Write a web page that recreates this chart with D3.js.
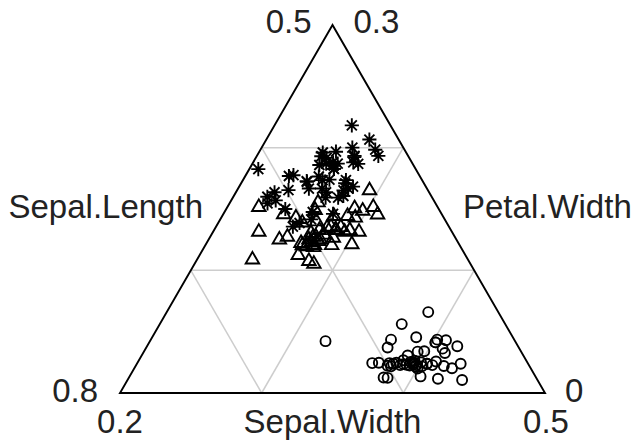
<!DOCTYPE html>
<html>
<head>
<meta charset="utf-8">
<script src="https://cdn.jsdelivr.net/npm/d3@7"></script>
<style>
  html, body { margin: 0; padding: 0; background: #fff; }
  svg { display: block; }
  text { font-family: "Liberation Sans", Arial, Helvetica, sans-serif; fill: #222; }
</style>
</head>
<body>
<svg id="chart" width="635" height="441"></svg>
<script>
// Iris measurements (Sepal.Length, Sepal.Width, Petal.Width) by species
const sepalLength = [
  5.1,4.9,4.7,4.6,5.0,5.4,4.6,5.0,4.4,4.9,5.4,4.8,4.8,4.3,5.8,5.7,5.4,5.1,5.7,5.1,5.4,5.1,4.6,5.1,4.8,
  5.0,5.0,5.2,5.2,4.7,4.8,5.4,5.2,5.5,4.9,5.0,5.5,4.9,4.4,5.1,5.0,4.5,4.4,5.0,5.1,4.8,5.1,4.6,5.3,5.0,
  7.0,6.4,6.9,5.5,6.5,5.7,6.3,4.9,6.6,5.2,5.0,5.9,6.0,6.1,5.6,6.7,5.6,5.8,6.2,5.6,5.9,6.1,6.3,6.1,6.4,
  6.6,6.8,6.7,6.0,5.7,5.5,5.5,5.8,6.0,5.4,6.0,6.7,6.3,5.6,5.5,5.5,6.1,5.8,5.0,5.6,5.7,5.7,6.2,5.1,5.7,
  6.3,5.8,7.1,6.3,6.5,7.6,4.9,7.3,6.7,7.2,6.5,6.4,6.8,5.7,5.8,6.4,6.5,7.7,7.7,6.0,6.9,5.6,7.7,6.3,6.7,
  7.2,6.2,6.1,6.4,7.2,7.4,7.9,6.4,6.3,6.1,7.7,6.3,6.4,6.0,6.9,6.7,6.9,5.8,6.8,6.7,6.7,6.3,6.5,6.2,5.9
];
const sepalWidth = [
  3.5,3.0,3.2,3.1,3.6,3.9,3.4,3.4,2.9,3.1,3.7,3.4,3.0,3.0,4.0,4.4,3.9,3.5,3.8,3.8,3.4,3.7,3.6,3.3,3.4,
  3.0,3.4,3.5,3.4,3.2,3.1,3.4,4.1,4.2,3.1,3.2,3.5,3.6,3.0,3.4,3.5,2.3,3.2,3.5,3.8,3.0,3.8,3.2,3.7,3.3,
  3.2,3.2,3.1,2.3,2.8,2.8,3.3,2.4,2.9,2.7,2.0,3.0,2.2,2.9,2.9,3.1,3.0,2.7,2.2,2.5,3.2,2.8,2.5,2.8,2.9,
  3.0,2.8,3.0,2.9,2.6,2.4,2.4,2.7,2.7,3.0,3.4,3.1,2.3,3.0,2.5,2.6,3.0,2.6,2.3,2.7,3.0,2.9,2.9,2.5,2.8,
  3.3,2.7,3.0,2.9,3.0,3.0,2.5,2.9,2.5,3.6,3.2,2.7,3.0,2.5,2.8,3.2,3.0,3.8,2.6,2.2,3.2,2.8,2.8,2.7,3.3,
  3.2,2.8,3.0,2.8,3.0,2.8,3.8,2.8,2.8,2.6,3.0,3.4,3.1,3.0,3.1,3.1,3.1,2.7,3.2,3.3,3.0,2.5,3.0,3.4,3.0
];
const petalWidth = [
  0.2,0.2,0.2,0.2,0.2,0.4,0.3,0.2,0.2,0.1,0.2,0.2,0.1,0.1,0.2,0.4,0.4,0.3,0.3,0.3,0.2,0.4,0.2,0.5,0.2,
  0.2,0.4,0.2,0.2,0.2,0.2,0.4,0.1,0.2,0.2,0.2,0.2,0.1,0.2,0.2,0.3,0.3,0.2,0.6,0.4,0.3,0.2,0.2,0.2,0.2,
  1.4,1.5,1.5,1.3,1.5,1.3,1.6,1.0,1.3,1.4,1.0,1.5,1.0,1.4,1.3,1.4,1.5,1.0,1.5,1.1,1.8,1.3,1.5,1.2,1.3,
  1.4,1.4,1.7,1.5,1.0,1.1,1.0,1.2,1.6,1.5,1.6,1.5,1.3,1.3,1.3,1.2,1.4,1.2,1.0,1.3,1.2,1.3,1.3,1.1,1.3,
  2.5,1.9,2.1,1.8,2.2,2.1,1.7,1.8,1.8,2.5,2.0,1.9,2.1,2.0,2.4,2.3,1.8,2.2,2.3,1.5,2.3,2.0,2.0,1.8,2.1,
  1.8,1.8,1.8,2.1,1.6,1.9,2.0,2.2,1.5,1.4,2.3,2.4,1.8,1.8,2.1,2.4,2.3,1.9,2.3,2.5,2.3,1.9,2.0,2.3,1.8
];
const speciesNames = ["setosa", "versicolor", "virginica"];
const speciesCounts = [50, 50, 50];

// Axis titles and their (zoomed) ranges on the composition scale
const axisTitles = ["Sepal.Length", "Sepal.Width", "Petal.Width"];
const sepalLengthRange = [0.5, 0.8];   // 0.5 at apex, 0.8 at lower-left corner
const sepalWidthRange  = [0.2, 0.5];   // 0.2 at lower-left, 0.5 at lower-right corner
const petalWidthRange  = [0.0, 0.3];   // 0.3 at apex, 0 at lower-right corner
const cornerLabels = { apexLeft: "0.5", apexRight: "0.3", leftTop: "0.8", leftBottom: "0.2", rightTop: "0", rightBottom: "0.5" };
const gridFractions = [1 / 3, 2 / 3];

// Triangle corners: apex (Petal.Width), lower-left (Sepal.Length), lower-right (Sepal.Width)
const apex = [332.5, 25], lowerLeft = [120, 393], lowerRight = [545, 393];

// Each component share -> barycentric weight of its corner
const wLen = d3.scaleLinear().domain(sepalLengthRange).range([0, 1]);
const wWid = d3.scaleLinear().domain(sepalWidthRange).range([0, 1]);
const wPet = d3.scaleLinear().domain(petalWidthRange).range([0, 1]);

function bary(wa, wl, wr) {
  return [wa * apex[0] + wl * lowerLeft[0] + wr * lowerRight[0],
          wa * apex[1] + wl * lowerLeft[1] + wr * lowerRight[1]];
}

const points = sepalLength.map((sl, i) => {
  const total = sl + sepalWidth[i] + petalWidth[i];
  let k = 0, acc = 0;
  while (i >= acc + speciesCounts[k]) { acc += speciesCounts[k]; k++; }
  const p = bary(wPet(petalWidth[i] / total), wLen(sl / total), wWid(sepalWidth[i] / total));
  return { x: p[0], y: p[1], species: speciesNames[k] };
});

const svg = d3.select("#chart");

// Grid lines at 1/3 and 2/3 of each axis
const grid = svg.append("g").attr("stroke", "#cdcdcd").attr("stroke-width", 1.5).attr("fill", "none");
gridFractions.forEach(f => {
  // constant apex weight (horizontal)
  const h1 = bary(f, 1 - f, 0), h2 = bary(f, 0, 1 - f);
  // constant lower-left weight
  const l1 = bary(1 - f, f, 0), l2 = bary(0, f, 1 - f);
  // constant lower-right weight
  const r1 = bary(1 - f, 0, f), r2 = bary(0, 1 - f, f);
  [[h1, h2], [l1, l2], [r1, r2]].forEach(([a, b]) => {
    grid.append("line").attr("x1", a[0]).attr("y1", a[1]).attr("x2", b[0]).attr("y2", b[1]);
  });
});

// Triangle outline
svg.append("path")
  .attr("d", d3.line()([apex, lowerLeft, lowerRight]) + "Z")
  .attr("fill", "none").attr("stroke", "#000").attr("stroke-width", 1.9)
  .attr("stroke-linejoin", "miter");

// Point symbols: open circle, open triangle, asterisk
const r = 5.0;
const asterisk = {
  draw(ctx, size) {
    const a = r, b = Math.SQRT2 * r;
    ctx.moveTo(-a, -a); ctx.lineTo(a, a);
    ctx.moveTo(-a, a); ctx.lineTo(a, -a);
    ctx.moveTo(-b, 0); ctx.lineTo(b, 0);
    ctx.moveTo(0, -b); ctx.lineTo(0, b);
  }
};
const symbolFor = {
  setosa: d3.symbol().type(d3.symbolCircle).size(Math.PI * r * r),
  versicolor: d3.symbol().type(d3.symbolTriangle).size(3 * Math.sqrt(3) * Math.pow(1.555 * r / 2, 2)),
  virginica: d3.symbol().type(asterisk).size(1)
};

svg.append("g")
  .selectAll("path")
  .data(points)
  .join("path")
  .attr("transform", d => `translate(${d.x},${d.y})`)
  .attr("d", d => symbolFor[d.species]())
  .attr("fill", "none")
  .attr("stroke", "#000")
  .attr("stroke-width", 1.9);

// Corner value labels
const fs = 33;
const txt = (x, y, s, anchor) => svg.append("text")
  .attr("x", x).attr("y", y).attr("text-anchor", anchor)
  .style("font-size", fs + "px").text(s);

txt(apex[0] - 21, 33, cornerLabels.apexLeft, "end");
txt(apex[0] + 21, 33, cornerLabels.apexRight, "start");
txt(lowerLeft[0] - 22, 402, cornerLabels.leftTop, "end");
txt(lowerLeft[0], 433, cornerLabels.leftBottom, "middle");
txt(lowerRight[0] + 20, 402, cornerLabels.rightTop, "start");
txt(lowerRight[0] + 1, 433, cornerLabels.rightBottom, "middle");

// Axis titles
txt(203, 218, axisTitles[0], "end");
txt((lowerLeft[0] + lowerRight[0]) / 2, 433, axisTitles[1], "middle");
txt(463, 218, axisTitles[2], "start");
</script>
</body>
</html>
